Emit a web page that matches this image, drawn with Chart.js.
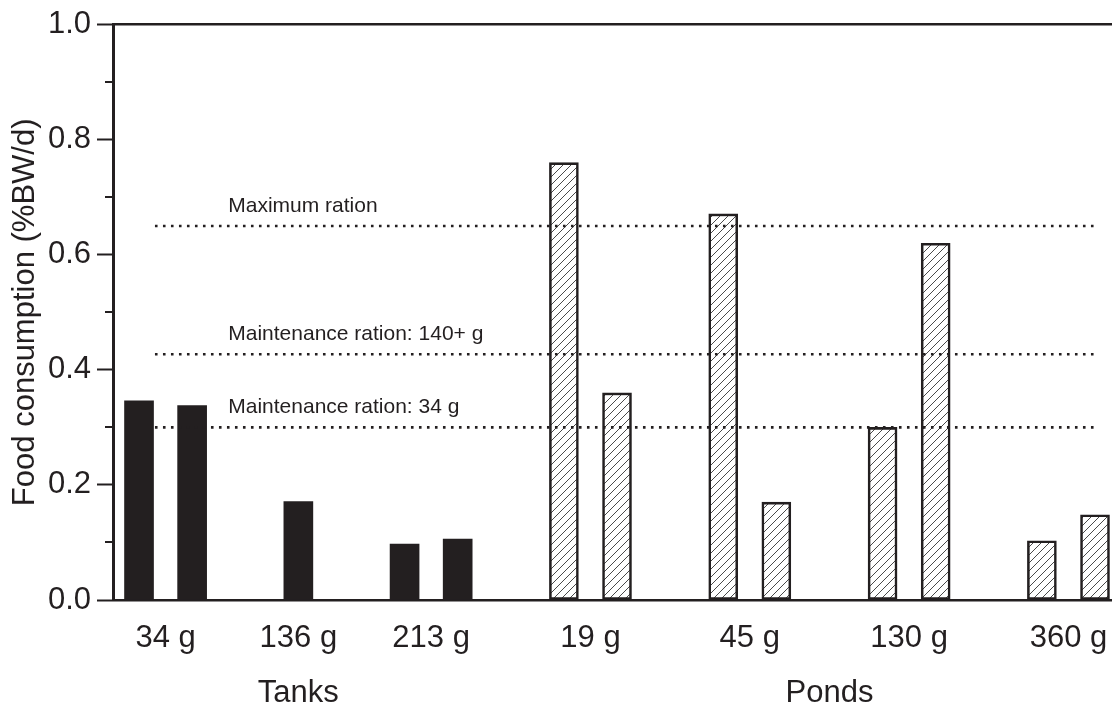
<!DOCTYPE html>
<html><head><meta charset="utf-8">
<script src="https://cdn.jsdelivr.net/npm/chart.js@4.4.0/dist/chart.umd.min.js"></script>
<style>html,body{margin:0;padding:0;background:#fff}#wrap{width:1112px;height:706px;position:relative}</style>
</head><body><div id="wrap"><canvas id="c"></canvas></div>
<script>
const tankLabels = ['34 g', '136 g', '213 g'];
const tankValues = [[0.346, 0.338], [0.171], [0.097, 0.106]];
const pondLabels = ['19 g', '45 g', '130 g', '360 g'];
const pondValues = [[0.760, 0.360], [0.671, 0.170], [0.300, 0.620], [0.103, 0.148]];
const habitatLabels = ['Tanks', 'Ponds'];
const rationLabels = ['Maximum ration', 'Maintenance ration: 140+ g', 'Maintenance ration: 34 g'];
const rationValues = [0.65, 0.427, 0.30];
const yTickValues = [0, 0.2, 0.4, 0.6, 0.8, 1.0];
const yMinorValues = [0.1, 0.3, 0.5, 0.7, 0.9];
const yTitle = 'Food consumption (%BW/d)';

const INK = '#231f20';
const FONT = "'Liberation Sans', Arial, Helvetica, sans-serif";
Chart.defaults.font.family = FONT;
Chart.defaults.color = INK;

// bar slots: bars of one group side by side, one empty slot between groups
let slot = 0;
const groupCenters = [], groupNames = [];
const tankPoints = [], pondPoints = [];
function place(labels, values, out) {
  const centers = [];
  labels.forEach((lab, i) => {
    const vals = values[i];
    vals.forEach((v, j) => out.push({x: slot + j, y: v}));
    const c = slot + (vals.length - 1) / 2;
    groupCenters.push(c); groupNames.push(lab); centers.push(c);
    slot += vals.length + 1;
  });
  return centers;
}
const tankCenters = place(tankLabels, tankValues, tankPoints);
const pondCenters = place(pondLabels, pondValues, pondPoints);
const lastSlot = slot - 2;
const habitatCenters = [
  (tankCenters[0] + tankCenters[tankCenters.length - 1]) / 2,
  (pondCenters[0] + pondCenters[pondCenters.length - 1]) / 2
];
const xMin = -0.49, xMax = lastSlot + 0.32;
const lineStart = 0.3, lineEnd = lastSlot, textAt = 1.68;

function hatchPattern() {
  const c = document.createElement('canvas');
  c.width = 8; c.height = 8;
  const g = c.getContext('2d');
  g.fillStyle = '#ffffff'; g.fillRect(0, 0, 8, 8);
  g.strokeStyle = '#4a4a4a'; g.lineWidth = 1;
  g.beginPath();
  g.moveTo(0, 8); g.lineTo(8, 0);
  g.moveTo(-2, 2); g.lineTo(2, -2);
  g.moveTo(6, 10); g.lineTo(10, 6);
  g.stroke();
  return document.getElementById('c').getContext('2d').createPattern(c, 'repeat');
}

const rationSets = rationValues.map(v => ({
  type: 'line',
  data: [{x: lineStart, y: v}, {x: lineEnd, y: v}],
  borderColor: INK, borderWidth: 2.6, borderDash: [2.6, 5.4], borderCapStyle: 'butt',
  pointRadius: 0, fill: false, order: 0
}));

const extras = {
  id: 'extras',
  afterDatasetsDraw(chart) {
    const {ctx, scales: {x, y}, chartArea} = chart;
    ctx.save();
    ctx.fillStyle = INK;
    ctx.font = "21px " + FONT;
    ctx.textAlign = 'left'; ctx.textBaseline = 'alphabetic';
    rationLabels.forEach((t, i) => {
      ctx.fillText(t, x.getPixelForValue(textAt), y.getPixelForValue(rationValues[i]) - 14);
    });
    ctx.strokeStyle = INK; ctx.lineWidth = 2;
    ctx.beginPath();
    yMinorValues.forEach(v => {
      const py = Math.round(y.getPixelForValue(v));
      ctx.moveTo(chartArea.left - 8, py); ctx.lineTo(chartArea.left, py);
    });
    ctx.stroke();
    ctx.restore();
  }
};

new Chart(document.getElementById('c'), {
  type: 'bar',
  data: {
    datasets: [
      ...rationSets,
      { data: tankPoints, backgroundColor: INK, borderWidth: 0, barThickness: 29, grouped: false, order: 1 },
      { data: pondPoints, backgroundColor: hatchPattern(), borderColor: INK, borderWidth: 2.6,
        borderSkipped: false, barThickness: 29, grouped: false, order: 1 }
    ]
  },
  options: {
    responsive: true, maintainAspectRatio: false, animation: false,
    layout: {padding: {top: 24, right: 0, left: 0, bottom: 0}},
    plugins: {legend: {display: false}, tooltip: {enabled: false}},
    scales: {
      x: {
        type: 'linear', position: 'bottom', min: xMin, max: xMax, offset: false, weight: 0,
        grid: {display: false, drawTicks: true, tickLength: 20},
        border: {display: true, color: INK, width: 2.6},
        afterBuildTicks: s => { s.ticks = groupCenters.map(v => ({value: v})); },
        afterFit: s => { s.height = 62; s.paddingLeft = 0; s.paddingRight = 0; },
        ticks: {autoSkip: false, maxRotation: 0, padding: 0, font: {size: 31}, color: INK,
          callback: (v, i) => groupNames[i]}
      },
      x2: {
        type: 'linear', position: 'bottom', min: xMin, max: xMax, offset: false, weight: 1,
        grid: {display: false, drawTicks: true, tickLength: 13},
        border: {display: false},
        afterBuildTicks: s => { s.ticks = habitatCenters.map(v => ({value: v})); },
        afterFit: s => { s.height = 44; s.paddingLeft = 0; s.paddingRight = 0; },
        ticks: {autoSkip: false, maxRotation: 0, padding: 0, font: {size: 31}, color: INK,
          callback: (v, i) => habitatLabels[i]}
      },
      xTop: {
        type: 'linear', position: 'top', min: xMin, max: xMax, offset: false,
        grid: {display: false, drawTicks: false},
        border: {display: true, color: INK, width: 2.6},
        ticks: {display: false},
        afterFit: s => { s.height = 0; }
      },
      y: {
        type: 'linear', min: 0, max: 1, position: 'left',
        grid: {display: true, drawOnChartArea: false, drawTicks: true, tickLength: 16, tickWidth: 2, tickColor: INK},
        border: {display: true, color: INK, width: 3},
        afterBuildTicks: s => { s.ticks = yTickValues.map(v => ({value: v})); },
        afterFit: s => { s.width = 113; },
        ticks: {padding: 6, font: {size: 31}, color: INK, callback: v => Number(v).toFixed(1)},
        title: {display: true, text: yTitle, font: {size: 31}, color: INK, padding: {top: 7, bottom: 0}}
      }
    }
  },
  plugins: [extras]
});
</script>
</body></html>
